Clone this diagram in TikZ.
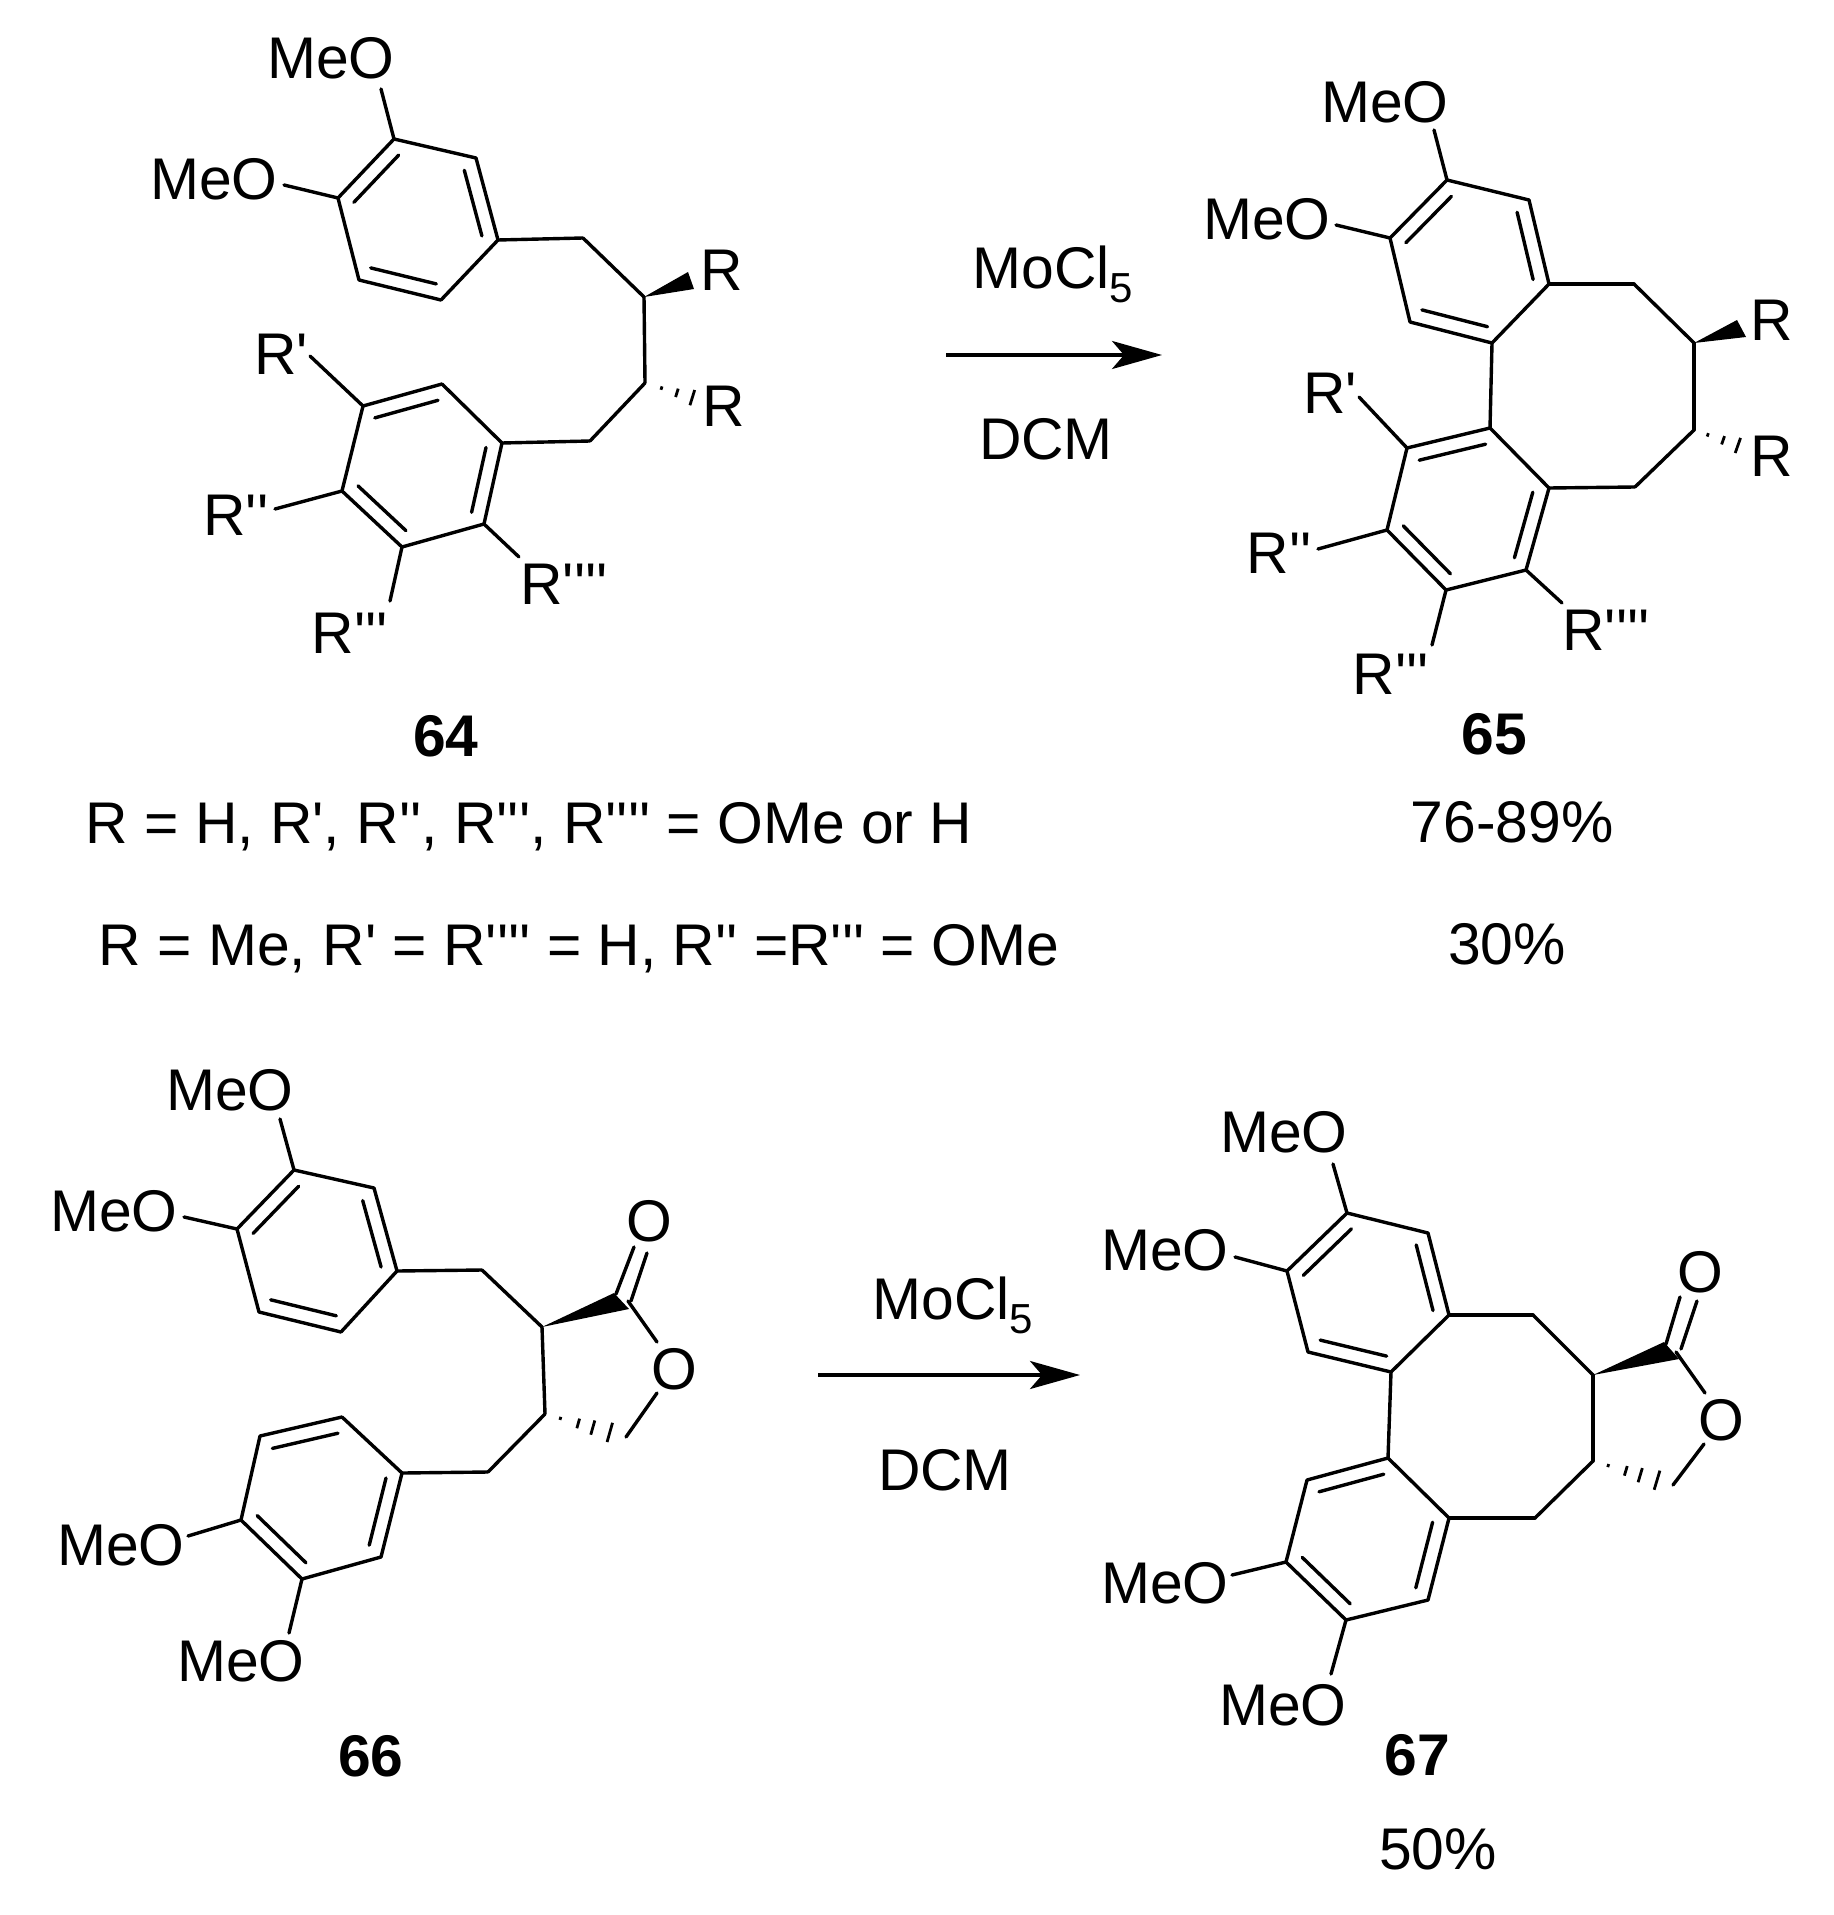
\documentclass[tikz,border=0pt]{standalone}
\usepackage{fontspec}
\usetikzlibrary{calc,arrows.meta}
\newfontfamily\chemfont{Liberation Sans}

\tikzset{
    bond/.style={line width=1.7pt, line cap=round},
    lbl/.style={inner sep=0pt, font=\chemfont\fontsize{29.4}{34}\selectfont},
    num/.style={inner sep=0pt, font=\chemfont\bfseries\fontsize{29.4}{34}\selectfont},
    rxn/.style={line width=1.7pt, -{Stealth[length=25pt, width=14pt, inset=6pt]}}
}

% inner line of a double bond: #1 and #2 are ring atoms, #3 the ring centre
\newcommand{\innerbond}[3]{\draw[bond] ($(#1)!.2!(#3)$) -- ($(#2)!.2!(#3)$);}
% hashed bond from #1 towards #2, with a list of place/half width
\newcommand{\hashbond}[3]{%
    \foreach \t/\w in {#3} {
        \coordinate (hashpt) at ($(#1)!\t!(#2)$);
        \draw[line width=1.4pt] ($(hashpt)!\w!90:(#2)$) -- ($(hashpt)!\w!-90:(#2)$);
    }
}
\newcommand{\subfive}{\raisebox{-7pt}{\fontsize{21}{24}\selectfont 5}}

\begin{document}
\begin{tikzpicture}[x=0.5pt, y=-0.5pt]
    \useasboundingbox (0,0) rectangle (1833,1915);

    % Compound 64
    \foreach \n/\x/\y in {Aa1/394/139, Aa2/476/158, Aa3/498/240, Aa4/441/300, Aa5/359/280, Aa6/338/198,
        Ae1/381/89, Ae2/284/185, Ac1/583/238, Ac2/644/297, Ac3/645/383, Ac4/590/441,
        Ab1/442/384, Ab2/363/406, Ab3/342/491, Ab4/402/547, Ab5/484/524, Ab6/502/443,
        Ae3/310/356, Ae4/275/509, Ae5/390/601, Ae6/519/557,
        Aw1/688/272, Aw2/694/289, Ah1/700/400} {
        \coordinate (\n) at (\x,\y);
    }
    \coordinate (Ax) at ($(Aa1)!.5!(Aa4)$);
    \coordinate (Ay) at ($(Ab1)!.5!(Ab4)$);
    \foreach \a/\b in {Aa1/Aa2, Aa2/Aa3, Aa3/Aa4, Aa4/Aa5, Aa5/Aa6, Aa6/Aa1, Aa1/Ae1, Aa6/Ae2,
        Aa3/Ac1, Ac1/Ac2, Ac2/Ac3, Ac3/Ac4, Ac4/Ab6,
        Ab1/Ab2, Ab2/Ab3, Ab3/Ab4, Ab4/Ab5, Ab5/Ab6, Ab6/Ab1,
        Ab2/Ae3, Ab3/Ae4, Ab4/Ae5, Ab5/Ae6} {
        \draw[bond] (\a) -- (\b);
    }
    \innerbond{Aa1}{Aa6}{Ax}
    \innerbond{Aa2}{Aa3}{Ax}
    \innerbond{Aa4}{Aa5}{Ax}
    \innerbond{Ab1}{Ab2}{Ay}
    \innerbond{Ab3}{Ab4}{Ay}
    \innerbond{Ab5}{Ab6}{Ay}
    \fill (Ac2) -- (Aw1) -- (Aw2) -- cycle;
    \hashbond{Ac3}{Ah1}{.3/.9pt, .58/2.2pt, .86/4pt}
    \node[lbl] (meoa1) at (331,58) {MeO};
    \node[lbl] (meoa2) at (214,179) {MeO};
    \node[lbl] (ra1) at (722,270) {R};
    \node[lbl] (ra2) at (724,406) {R};
    \node[lbl] (ra3) at (281,354) {R'};
    \node[lbl] (ra4) at (236,515) {R''};
    \node[lbl] (ra5) at (350,633) {R'''};
    \node[lbl] (ra6) at (564,584) {R''''};
    \node[num] (num64) at (446,736) {64};

    % Compound 65
    \foreach \n/\x/\y in {Ba1/1447/180, Ba2/1529/200, Ba3/1549/284, Ba4/1492/343, Ba5/1410/322, Ba6/1390/238,
        Be1/1434/130, Be2/1336/225, Bc1/1634/284, Bc2/1694/343, Bc3/1694/430, Bc4/1635/487,
        Bb1/1490/428, Bb2/1407/448, Bb3/1387/530, Bb4/1446/590, Bb5/1526/570, Bb6/1549/488,
        Be3/1359/397, Be4/1318/549, Be5/1432/645, Be6/1562/603,
        Bw1/1737/320, Bw2/1746/337, Bh1/1745/448} {
        \coordinate (\n) at (\x,\y);
    }
    \coordinate (Bx) at ($(Ba1)!.5!(Ba4)$);
    \coordinate (By) at ($(Bb1)!.5!(Bb4)$);
    \foreach \a/\b in {Ba1/Ba2, Ba2/Ba3, Ba3/Ba4, Ba4/Ba5, Ba5/Ba6, Ba6/Ba1, Ba1/Be1, Ba6/Be2,
        Ba3/Bc1, Bc1/Bc2, Bc2/Bc3, Bc3/Bc4, Bc4/Bb6, Ba4/Bb1,
        Bb1/Bb2, Bb2/Bb3, Bb3/Bb4, Bb4/Bb5, Bb5/Bb6, Bb6/Bb1,
        Bb2/Be3, Bb3/Be4, Bb4/Be5, Bb5/Be6} {
        \draw[bond] (\a) -- (\b);
    }
    \innerbond{Ba1}{Ba6}{Bx}
    \innerbond{Ba2}{Ba3}{Bx}
    \innerbond{Ba4}{Ba5}{Bx}
    \innerbond{Bb1}{Bb2}{By}
    \innerbond{Bb3}{Bb4}{By}
    \innerbond{Bb5}{Bb6}{By}
    \fill (Bc2) -- (Bw1) -- (Bw2) -- cycle;
    \hashbond{Bc3}{Bh1}{.27/.9pt, .57/2.2pt, .86/4pt}
    \node[lbl] (meob1) at (1385,102) {MeO};
    \node[lbl] (meob2) at (1267,219) {MeO};
    % the two R at the page side are cut off in the same way
    \begin{scope}
        \clip (0,0) rectangle (1789,1915);
        \node[lbl] (rb1) at (1772,320) {R};
        \node[lbl] (rb2) at (1772,456) {R};
    \end{scope}
    \node[lbl] (rb3) at (1330,393) {R'};
    \node[lbl] (rb4) at (1279,553) {R''};
    \node[lbl] (rb5) at (1391,674) {R'''};
    \node[lbl] (rb6) at (1606,630) {R''''};
    \node[num] (num65) at (1494,734) {65};

    % First arrow
    \coordinate (arrowa) at (946,355);
    \coordinate (arrowb) at (1162,355);
    \draw[rxn] (arrowa) -- (arrowb);
    \node[lbl] (moa) at (1053,274) {MoCl\subfive};
    \node[lbl] (dcma) at (1046,439) {DCM};

    % Substituent lines
    \node[lbl] (linea) at (529,827) {R = H, R', R'', R''', R'''' = OMe or H};
    \node[lbl] (yielda) at (1512,822) {76-89\%};
    \node[lbl] (lineb) at (579,949) {R = Me, R' = R'''' = H, R'' =R''' = OMe};
    \node[lbl] (yieldb) at (1507,944) {30\%};

    % Compound 66
    \foreach \n/\x/\y in {Ca1/294/1170, Ca2/374/1188, Ca3/397/1271, Ca4/341/1332, Ca5/259/1312, Ca6/237/1229,
        Ce1/280/1119, Ce2/184/1217, Cc1/482/1270, Cc2/542/1327, Cc3/545/1414, Cc4/488/1472,
        Cb1/342/1417, Cb2/260/1436, Cb3/241/1520, Cb4/302/1579, Cb5/381/1557, Cb6/402/1473,
        Ce3/188/1536, Ce4/289/1633,
        Cl1/628/1301, Cl2/657/1342, Cl3/657/1393, Cl4/626/1437,
        Cw1/614/1293, Cw2/629/1309, Co1/616/1294, Co2/634/1247, Co3/631/1301, Co4/647/1253} {
        \coordinate (\n) at (\x,\y);
    }
    \coordinate (Cx) at ($(Ca1)!.5!(Ca4)$);
    \coordinate (Cy) at ($(Cb1)!.5!(Cb4)$);
    \foreach \a/\b in {Ca1/Ca2, Ca2/Ca3, Ca3/Ca4, Ca4/Ca5, Ca5/Ca6, Ca6/Ca1, Ca1/Ce1, Ca6/Ce2,
        Ca3/Cc1, Cc1/Cc2, Cc2/Cc3, Cc3/Cc4, Cc4/Cb6,
        Cb1/Cb2, Cb2/Cb3, Cb3/Cb4, Cb4/Cb5, Cb5/Cb6, Cb6/Cb1,
        Cb3/Ce3, Cb4/Ce4, Cl1/Cl2, Cl3/Cl4, Co1/Co2, Co3/Co4} {
        \draw[bond] (\a) -- (\b);
    }
    \innerbond{Ca1}{Ca6}{Cx}
    \innerbond{Ca2}{Ca3}{Cx}
    \innerbond{Ca4}{Ca5}{Cx}
    \innerbond{Cb1}{Cb2}{Cy}
    \innerbond{Cb3}{Cb4}{Cy}
    \innerbond{Cb5}{Cb6}{Cy}
    \fill (Cc2) -- (Cw1) -- (Cw2) -- cycle;
    \hashbond{Cc3}{Cl4}{.19/.8pt, .41/2.5pt, .59/3.7pt, .8/5pt}
    \node[lbl] (meoc1) at (230,1090) {MeO};
    \node[lbl] (meoc2) at (114,1211) {MeO};
    \node[lbl] (meoc3) at (121,1545) {MeO};
    \node[lbl] (meoc4) at (241,1661) {MeO};
    \node[lbl] (oc1) at (649,1221) {O};
    \node[lbl] (oc2) at (674,1369) {O};
    \node[num] (num66) at (371,1756) {66};

    % Second arrow
    \coordinate (arrowc) at (818,1375);
    \coordinate (arrowd) at (1080,1375);
    \draw[rxn] (arrowc) -- (arrowd);
    \node[lbl] (mob) at (953,1305) {MoCl\subfive};
    \node[lbl] (dcmb) at (945,1470) {DCM};

    % Compound 67
    \foreach \n/\x/\y in {Da1/1347/1213, Da2/1428/1233, Da3/1449/1315, Da4/1391/1372, Da5/1308/1352, Da6/1287/1271,
        De1/1333/1164, De2/1235/1257, Dc1/1533/1315, Dc2/1593/1375, Dc3/1593/1461, Dc4/1535/1518,
        Db1/1388/1458, Db2/1307/1480, Db3/1286/1562, Db4/1346/1620, Db5/1428/1600, Db6/1449/1518,
        De3/1232/1575, De4/1331/1674,
        Dl1/1676/1352, Dl2/1705/1393, Dl3/1704/1444, Dl4/1673/1485,
        Dw1/1664/1342, Dw2/1679/1359, Do1/1666/1344, Do2/1680/1297, Do3/1681/1349, Do4/1697/1301} {
        \coordinate (\n) at (\x,\y);
    }
    \coordinate (Dx) at ($(Da1)!.5!(Da4)$);
    \coordinate (Dy) at ($(Db1)!.5!(Db4)$);
    \foreach \a/\b in {Da1/Da2, Da2/Da3, Da3/Da4, Da4/Da5, Da5/Da6, Da6/Da1, Da1/De1, Da6/De2,
        Da3/Dc1, Dc1/Dc2, Dc2/Dc3, Dc3/Dc4, Dc4/Db6, Da4/Db1,
        Db1/Db2, Db2/Db3, Db3/Db4, Db4/Db5, Db5/Db6, Db6/Db1,
        Db3/De3, Db4/De4, Dl1/Dl2, Dl3/Dl4, Do1/Do2, Do3/Do4} {
        \draw[bond] (\a) -- (\b);
    }
    \innerbond{Da1}{Da6}{Dx}
    \innerbond{Da2}{Da3}{Dx}
    \innerbond{Da4}{Da5}{Dx}
    \innerbond{Db1}{Db2}{Dy}
    \innerbond{Db3}{Db4}{Dy}
    \innerbond{Db5}{Db6}{Dy}
    \fill (Dc2) -- (Dw1) -- (Dw2) -- cycle;
    \hashbond{Dc3}{Dl4}{.19/.8pt, .41/2.5pt, .59/3.7pt, .8/5pt}
    \node[lbl] (meod1) at (1284,1132) {MeO};
    \node[lbl] (meod2) at (1165,1250) {MeO};
    \node[lbl] (meod3) at (1165,1583) {MeO};
    \node[lbl] (meod4) at (1283,1705) {MeO};
    \node[lbl] (od1) at (1700,1272) {O};
    \node[lbl] (od2) at (1721,1420) {O};
    \node[num] (num67) at (1417,1755) {67};
    \node[lbl] (yieldc) at (1438,1849) {50\%};
\end{tikzpicture}
\end{document}
